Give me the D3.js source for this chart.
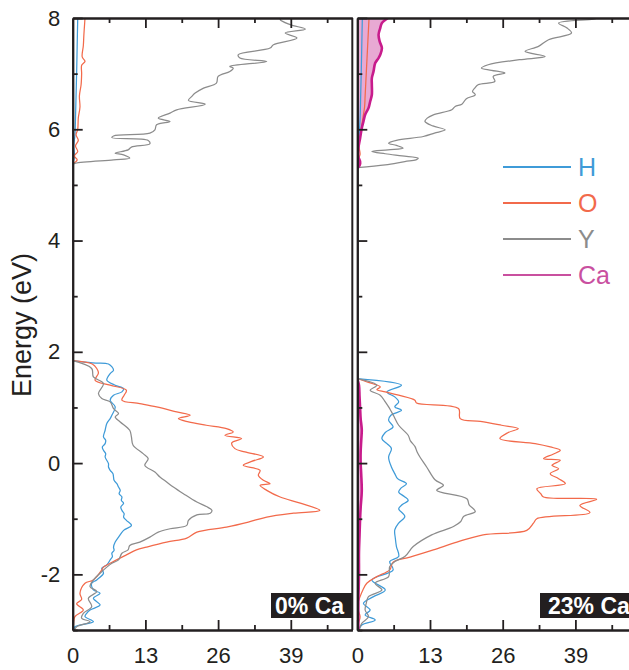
<!DOCTYPE html>
<html>
<head>
<meta charset="utf-8">
<script src="https://cdn.jsdelivr.net/npm/d3@7"></script>
<style>
  html, body { margin: 0; padding: 0; background: #ffffff; }
  svg { display: block; }
</style>
</head>
<body>
<svg id="chart" width="629" height="670"></svg>
<script>
// ---------------- DATA (energy in eV, DOS in states/eV) ----------------
const dosMajorTicks = [0, 13, 26, 39];
const dosMinorTicks = [6.5, 19.5, 32.5, 45.5];
const energyMajorTicks = [-2, 0, 2, 4, 6, 8];
const energyMinorTicks = [-3, -1, 1, 3, 5, 7];
const panelLabels = ["0% Ca", "23% Ca"];
const speciesNames = ["H", "O", "Y", "Ca"];

// ---- 0% Ca : valence band ----
const h0Valence = [[1.84,0],[1.80,3.5],[1.78,6.4],[1.67,7.3],[1.61,6.7],[1.49,6.1],[1.40,7.6],[1.34,9.1],[1.28,8.8],[1.22,7.3],[1.13,6.7],[1.01,7.6],[0.86,7.0],[0.80,6.7],[0.71,6.1],[0.59,5.8],[0.47,5.5],[0.41,5.9],[0.35,5.8],[0.29,5.3],[0.23,5.5],[0.17,5.9],[0.11,5.8],[-0.01,6.4],[-0.07,6.4],[-0.13,6.7],[-0.19,7.2],[-0.25,7.3],[-0.31,7.4],[-0.37,7.9],[-0.43,8.2],[-0.49,8.5],[-0.55,8.3],[-0.61,8.8],[-0.67,8.7],[-0.72,9.1],[-0.79,8.6],[-0.85,8.8],[-0.91,9.2],[-0.97,9.1],[-1.03,9.6],[-1.12,10.5],[-1.21,9.1],[-1.33,8.2],[-1.42,7.6],[-1.51,7.3],[-1.57,7.4],[-1.62,7.0],[-1.68,7.1],[-1.74,6.7],[-1.83,6.1],[-1.89,5.2],[-1.98,5.5],[-2.10,4.3],[-2.16,3.4],[-2.28,3.7],[-2.34,4.9],[-2.43,3.7],[-2.55,4.9],[-2.64,3.1],[-2.70,2.5],[-2.76,2.2],[-2.85,3.7],[-2.94,0.4],[-3.00,0.3]];
const o0Valence = [[1.84,0],[1.78,3.5],[1.70,4.3],[1.62,4.6],[1.49,4.0],[1.40,6.7],[1.31,9.6],[1.22,9.2],[1.13,8.8],[1.07,12.0],[1.01,15.0],[0.92,18.6],[0.86,21.0],[0.80,18.9],[0.74,20.7],[0.68,23.9],[0.62,27.5],[0.56,28.7],[0.50,27.2],[0.44,30.2],[0.38,28.6],[0.35,28.4],[0.26,29.0],[0.20,30.8],[0.11,34.1],[0.03,32.0],[-0.04,30.5],[-0.13,33.5],[-0.22,33.2],[-0.31,34.1],[-0.37,35.3],[-0.40,33.5],[-0.49,34.7],[-0.61,37.1],[-0.72,40.7],[-0.85,44.2],[-0.90,39.5],[-0.97,34.7],[-1.06,31.4],[-1.15,27.5],[-1.24,22.2],[-1.35,20.4],[-1.42,16.8],[-1.51,13.2],[-1.56,11.4],[-1.65,9.6],[-1.80,6.7],[-1.87,5.5],[-1.92,5.2],[-2.10,3.7],[-2.16,2.2],[-2.34,1.3],[-2.45,1.6],[-2.53,0.7],[-2.64,1.9],[-2.76,0.4],[-2.94,0.1],[-3.00,0]];
const y0Valence = [[1.84,0],[1.70,3.4],[1.55,3.7],[1.43,5.5],[1.25,4.6],[1.16,5.2],[1.10,6.7],[0.98,7.3],[0.89,8.2],[0.83,7.6],[0.74,8.5],[0.59,10.2],[0.47,10.5],[0.32,10.8],[0.17,12.6],[0.08,13.5],[-0.04,12.9],[-0.16,14.7],[-0.25,15.6],[-0.34,16.8],[-0.43,18.0],[-0.55,19.8],[-0.70,22.2],[-0.78,23.9],[-0.85,24.9],[-0.90,24.6],[-0.93,22.2],[-1.03,20.7],[-1.12,20.4],[-1.18,17.4],[-1.24,15.3],[-1.33,13.8],[-1.42,12.0],[-1.48,10.2],[-1.56,9.9],[-1.62,8.8],[-1.74,8.2],[-1.80,7.0],[-1.87,6.1],[-1.98,4.9],[-2.10,3.7],[-2.22,3.1],[-2.31,4.3],[-2.43,2.8],[-2.58,3.4],[-2.70,1.9],[-2.79,1.6],[-2.85,3.1],[-2.94,0.7],[-3.00,0.3]];

// ---- 0% Ca : conduction band ----
const h0Conduction = [[5.40,0],[5.50,0.3],[5.70,0.2],[5.90,0.4],[6.20,0.5],[6.60,0.6],[7.00,0.7],[7.50,0.8],[8.00,0.9]];
const o0Conduction = [[5.38,0],[5.45,0.8],[5.52,0.3],[5.60,0.9],[5.70,0.5],[5.80,1.0],[5.90,0.6],[6.00,0.9],[6.20,1.0],[6.40,1.3],[6.60,1.2],[6.80,1.5],[7.00,1.6],[7.15,1.6],[7.22,2.2],[7.30,1.7],[7.50,1.9],[7.70,2.0],[7.85,2.1],[8.00,2.2]];
const y0Conduction = [[5.36,0],[5.39,0.5],[5.45,7.3],[5.48,10.2],[5.54,9.1],[5.57,7.6],[5.63,9.9],[5.68,10.5],[5.74,13.8],[5.80,13.5],[5.85,7.0],[5.88,7.3],[5.93,13.8],[5.99,14.7],[6.08,15.0],[6.14,17.4],[6.20,15.3],[6.29,17.4],[6.35,18.6],[6.45,23.7],[6.52,20.7],[6.59,21.3],[6.65,21.9],[6.74,23.4],[6.83,25.7],[6.95,26.0],[7.04,28.1],[7.10,28.7],[7.13,28.1],[7.22,34.7],[7.28,29.9],[7.34,29.6],[7.46,35.3],[7.52,35.9],[7.64,40.1],[7.73,38.0],[7.80,41.6],[7.88,38.9],[7.97,37.1],[8.00,37.5]];

// ---- 23% Ca : valence band ----
const h23Valence = [[1.52,0],[1.40,7.9],[1.28,5.3],[1.19,6.7],[1.10,7.4],[1.01,6.7],[0.95,7.9],[0.86,6.0],[0.77,5.6],[0.65,6.4],[0.55,5.0],[0.44,4.4],[0.35,5.3],[0.26,6.1],[0.11,5.6],[-0.07,6.1],[-0.19,6.7],[-0.28,7.2],[-0.37,8.8],[-0.45,7.8],[-0.52,7.4],[-0.60,8.4],[-0.67,9.1],[-0.75,8.0],[-0.82,7.4],[-0.96,8.5],[-1.08,7.4],[-1.20,6.7],[-1.35,6.8],[-1.50,7.0],[-1.68,7.4],[-1.77,5.8],[-1.92,6.4],[-2.10,2.6],[-2.28,5.0],[-2.40,2.9],[-2.52,1.1],[-2.64,2.3],[-2.73,1.4],[-2.82,3.2],[-2.91,0.8],[-3.00,0.3]];
const o23Valence = [[1.52,0],[1.45,2.0],[1.37,4.1],[1.32,3.5],[1.28,5.0],[1.22,7.4],[1.13,10.3],[1.08,10.6],[0.98,18.1],[0.80,18.4],[0.75,22.0],[0.68,25.8],[0.62,28.8],[0.55,27.0],[0.44,25.5],[0.35,31.8],[0.29,34.5],[0.23,36.3],[0.16,35.0],[0.08,33.3],[0.05,36.3],[-0.04,34.8],[-0.10,36.0],[-0.19,34.5],[-0.28,36.0],[-0.37,37.2],[-0.46,32.1],[-0.55,32.8],[-0.61,33.3],[-0.65,42.8],[-0.76,39.8],[-0.89,41.6],[-1.00,32.1],[-1.08,31.5],[-1.21,30.3],[-1.29,22.5],[-1.42,17.8],[-1.56,13.6],[-1.69,9.4],[-1.78,6.4],[-1.92,5.8],[-2.04,3.5],[-2.16,1.7],[-2.28,1.0],[-2.40,0.5],[-2.58,0],[-2.76,0.5],[-2.88,0.2],[-3.00,0]];
const y23Valence = [[1.52,0],[1.40,3.5],[1.31,2.3],[1.22,4.1],[1.10,5.0],[1.01,5.6],[0.85,6.5],[0.68,7.4],[0.50,9.1],[0.40,9.5],[0.30,10.3],[0.20,10.7],[0.11,11.2],[-0.07,12.4],[-0.30,13.9],[-0.40,15.4],[-0.49,14.2],[-0.64,19.6],[-0.75,20.0],[-0.87,21.1],[-0.96,19.0],[-1.05,18.5],[-1.14,17.2],[-1.29,13.3],[-1.50,10.0],[-1.68,8.5],[-1.77,6.7],[-1.86,5.8],[-2.04,5.6],[-2.16,3.2],[-2.28,4.4],[-2.40,2.0],[-2.52,1.6],[-2.64,1.4],[-2.76,2.0],[-2.88,0.8],[-3.00,0.3]];
const ca23Valence = [[1.52,0],[1.40,0.3],[1.20,0.4],[1.00,0.5],[0.80,0.6],[0.60,0.8],[0.40,0.7],[0.20,0.6],[0.00,0.6],[-0.20,0.7],[-0.50,0.8],[-0.80,0.6],[-1.00,0.5],[-1.30,0.4],[-1.60,0.3],[-2.00,0.3],[-2.50,0.2],[-3.00,0.2]];

// ---- 23% Ca : conduction band ----
const h23Conduction = [[5.35,0],[5.50,0.2],[5.80,0.3],[6.20,0.5],[6.60,0.6],[7.00,0.7],[7.50,0.8],[8.00,0.9]];
const o23Conduction = [[5.30,0],[5.38,0.6],[5.45,0.2],[5.55,0.5],[5.70,0.3],[5.85,0.5],[6.00,0.7],[6.20,1.0],[6.40,1.3],[6.60,1.4],[6.80,1.5],[7.00,1.6],[7.20,1.7],[7.40,1.8],[7.60,1.9],[7.80,2.0],[8.00,2.1]];
const y23Conduction = [[5.31,0],[5.36,5.0],[5.42,8.5],[5.45,10.5],[5.48,10.9],[5.52,8.0],[5.56,5.0],[5.60,2.6],[5.63,5.5],[5.66,8.2],[5.71,7.0],[5.75,5.6],[5.80,7.0],[5.87,11.8],[5.93,13.8],[5.99,15.7],[6.06,13.5],[6.14,12.1],[6.20,12.5],[6.26,13.6],[6.35,16.9],[6.41,17.5],[6.45,18.7],[6.55,19.5],[6.62,21.1],[6.68,20.6],[6.74,21.0],[6.80,21.6],[6.86,24.6],[6.95,24.3],[7.01,26.4],[7.06,24.0],[7.10,22.2],[7.16,23.4],[7.25,29.0],[7.31,33.6],[7.40,30.0],[7.49,32.4],[7.61,34.2],[7.73,38.3],[7.82,37.5],[7.91,36.0],[7.98,42.2],[8.00,43.0]];
const ca23Conduction = [[5.30,0],[5.35,0.4],[5.42,0.5],[5.50,0.2],[5.66,0.2],[5.84,0.5],[6.02,0.8],[6.14,1.1],[6.26,1.4],[6.38,2.0],[6.50,2.3],[6.62,2.6],[6.80,2.6],[6.92,2.6],[7.04,2.9],[7.19,3.2],[7.28,3.8],[7.34,4.1],[7.46,4.4],[7.58,4.0],[7.70,3.8],[7.82,4.1],[7.91,4.4],[8.00,5.5]];

// ---------------- STYLE ----------------
const colors = { H: "#3f9bd8", O: "#f26a4b", Y: "#8c8c8c", Ca: "#c81c8c" };
const legendColors = { H: "#3f9bd8", O: "#f26a4b", Y: "#8c8c8c", Ca: "#c9509f" };
const caFill = "#e8a9d3";
const ink = "#231f20";
const font = "'Liberation Sans', Arial, Helvetica, sans-serif";

const svg = d3.select("#chart");
const W = 629, H = 670;
const plotTop = 18, plotBottom = 630;
const pxPerUnit = 72.7 / 13;
const dosMax = 50;

const y = d3.scaleLinear().domain([-3, 8]).range([plotBottom, plotTop]);

const panels = [
  { label: panelLabels[0], x0: 72.7,
    series: { H: [h0Valence, h0Conduction], O: [o0Valence, o0Conduction], Y: [y0Valence, y0Conduction] },
    ca: null, yLabels: true, rightBorder: true, boxX: 271, textDx: 4 },
  { label: panelLabels[1], x0: 357.3,
    series: { H: [h23Valence, h23Conduction], O: [o23Valence, o23Conduction], Y: [y23Valence, y23Conduction] },
    ca: [ca23Valence, ca23Conduction], yLabels: false, rightBorder: false, boxX: 540, textDx: 8 }
];

panels.forEach((p, i) => {
  const x = d3.scaleLinear().domain([0, dosMax]).range([p.x0, p.x0 + dosMax * pxPerUnit]);
  const g = svg.append("g");
  const clipId = "clip" + i;
  svg.append("clipPath").attr("id", clipId)
    .append("rect")
    .attr("x", x(0)).attr("y", plotTop)
    .attr("width", Math.min(x(dosMax), W) - x(0)).attr("height", plotBottom - plotTop);

  const curves = g.append("g").attr("clip-path", `url(#${clipId})`);
  const line = d3.line().x(d => x(d[1])).y(d => y(d[0])).curve(d3.curveCatmullRom.alpha(0.5));
  const area = d3.area().y(d => y(d[0])).x0(x(0)).x1(d => x(d[1])).curve(d3.curveCatmullRom.alpha(0.5));

  if (p.ca) {
    p.ca.forEach(seg => {
      curves.append("path").datum(seg).attr("d", area)
        .attr("fill", caFill).attr("stroke", "none");
    });
  }
  ["H", "O", "Y"].forEach(s => {
    p.series[s].forEach(seg => {
      curves.append("path").datum(seg).attr("d", line)
        .attr("fill", "none").attr("stroke", colors[s]).attr("stroke-width", 1.25)
        .attr("stroke-linejoin", "round");
    });
  });
  if (p.ca) {
    p.ca.forEach(seg => {
      curves.append("path").datum(seg).attr("d", line)
        .attr("fill", "none").attr("stroke", colors.Ca).attr("stroke-width", 2.6)
        .attr("stroke-linejoin", "round");
    });
  }

  // ---- axes ----
  const styleAxis = sel => {
    sel.selectAll(".domain").attr("stroke", ink).attr("stroke-width", 2);
    sel.selectAll(".tick line").attr("stroke", ink).attr("stroke-width", 1.8);
    sel.selectAll("text").attr("fill", ink).attr("font-family", font).attr("font-size", 22);
  };

  // bottom
  const bAxis = g.append("g").attr("transform", `translate(0,${plotBottom})`)
    .call(d3.axisBottom(x).tickValues(dosMajorTicks).tickSizeInner(-10).tickSizeOuter(0).tickPadding(17).tickFormat(d3.format("d")));
  styleAxis(bAxis);
  const bMinor = g.append("g").attr("transform", `translate(0,${plotBottom})`)
    .call(d3.axisBottom(x).tickValues(dosMinorTicks).tickSizeInner(-5).tickSizeOuter(0).tickFormat(""));
  styleAxis(bMinor);

  // top
  const tAxis = g.append("g").attr("transform", `translate(0,${plotTop})`)
    .call(d3.axisTop(x).tickValues(dosMajorTicks.filter(d => d > 0)).tickSizeInner(-10).tickSizeOuter(0).tickFormat(""));
  styleAxis(tAxis);
  const tMinor = g.append("g").attr("transform", `translate(0,${plotTop})`)
    .call(d3.axisTop(x).tickValues(dosMinorTicks).tickSizeInner(-5).tickSizeOuter(0).tickFormat(""));
  styleAxis(tMinor);

  // left
  const lAxis = g.append("g").attr("transform", `translate(${x(0)},0)`)
    .call(d3.axisLeft(y).tickValues(energyMajorTicks).tickSizeInner(-10).tickSizeOuter(0).tickPadding(12.5)
      .tickFormat(p.yLabels ? d3.format("d") : ""));
  styleAxis(lAxis);
  lAxis.selectAll("text").text(d => p.yLabels ? String(d).replace("−", "-") : "");
  const lMinor = g.append("g").attr("transform", `translate(${x(0)},0)`)
    .call(d3.axisLeft(y).tickValues(energyMinorTicks).tickSizeInner(-5).tickSizeOuter(0).tickFormat(""));
  styleAxis(lMinor);

  if (p.rightBorder) {
    g.append("line").attr("x1", x(dosMax)).attr("x2", x(dosMax))
      .attr("y1", plotTop).attr("y2", plotBottom)
      .attr("stroke", ink).attr("stroke-width", 2);
  }

  // boxed label
  const boxW = p.rightBorder ? x(dosMax) - p.boxX : W - p.boxX + 10;
  g.append("rect").attr("x", p.boxX).attr("y", 593).attr("width", boxW).attr("height", 25).attr("fill", ink);
  g.append("text").attr("x", p.boxX + p.textDx).attr("y", 614)
    .attr("fill", "#ffffff").attr("font-family", font).attr("font-weight", "bold")
    .attr("font-size", 23).text(p.label);
});

// y-axis title
svg.append("text")
  .attr("transform", "translate(31,325) rotate(-90)")
  .attr("text-anchor", "middle")
  .attr("font-family", font).attr("font-size", 27).attr("fill", ink)
  .text("Energy (eV)");

// legend
const legendY = d3.scalePoint().domain(speciesNames).range([167, 275]);
const legend = svg.append("g");
speciesNames.forEach(s => {
  legend.append("line").attr("x1", 503).attr("x2", 571)
    .attr("y1", legendY(s)).attr("y2", legendY(s))
    .attr("stroke", legendColors[s]).attr("stroke-width", 1.8);
  legend.append("text").attr("x", 578).attr("y", legendY(s)).attr("dy", "0.36em")
    .attr("font-family", font).attr("font-size", 25).attr("fill", legendColors[s])
    .text(s);
});
</script>
</body>
</html>
